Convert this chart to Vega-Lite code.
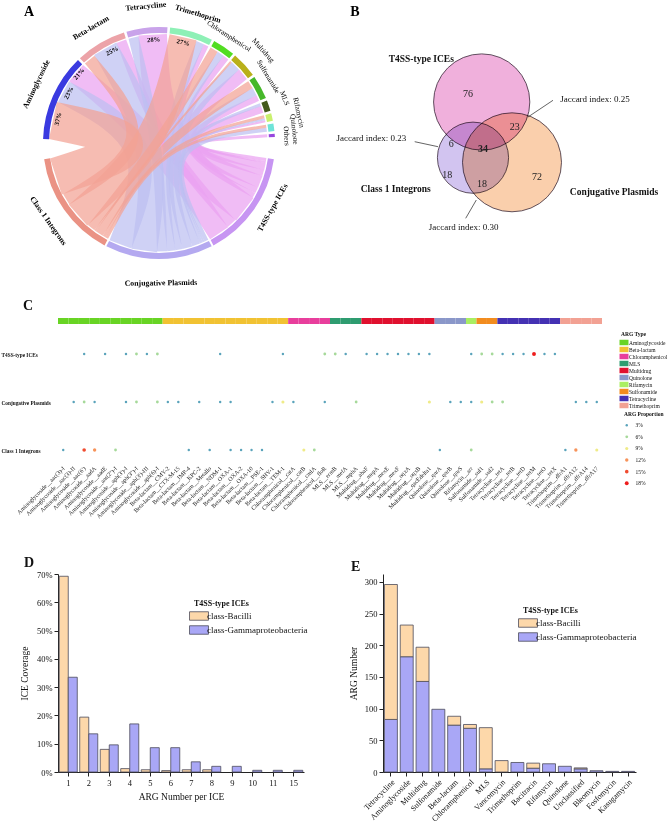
{
  "$schema": "https://vega.github.io/schema/vega-lite/v6.json",
  "padding": 0,
  "background": "white",
  "config": {
    "font": "Liberation Serif",
    "view": {"stroke": "transparent"},
    "axis": {"grid": false, "domainColor": "#222222", "tickColor": "#222222", "labelColor": "#111111", "titleColor": "#111111", "titleFontWeight": "normal"},
    "legend": {"labelColor": "#111111", "titleColor": "#111111"},
    "title": {"color": "#111111"}
  },
  "datasets": {
    "ring": [
      {"seg": "T4SS-type ICEs", "t0": 98, "t1": 152},
      {"seg": "Conjugative Plasmids", "t0": 153, "t1": 207},
      {"seg": "Class 1 Integrons", "t0": 208, "t1": 262},
      {"seg": "Aminoglycoside", "t0": 272, "t1": 315.7},
      {"seg": "Beta-lactam", "t0": 317, "t1": 342.4},
      {"seg": "Tetracycline", "t0": 343.7, "t1": 364.2},
      {"seg": "Trimethoprim", "t0": 365.5, "t1": 387.1},
      {"seg": "Chloramphenicol", "t0": 388.4, "t1": 399.7},
      {"seg": "Multidrug", "t0": 401, "t1": 414},
      {"seg": "Sulfonamide", "t0": 415.3, "t1": 427.2},
      {"seg": "MLS", "t0": 428.5, "t1": 433.9},
      {"seg": "Rifamycin", "t0": 435.2, "t1": 439},
      {"seg": "Quinolone", "t0": 440.3, "t1": 444.1},
      {"seg": "Others", "t0": 445.4, "t1": 447}
    ],
    "chords": [
      {"id": "T-Oth", "src": "T4SS-type ICEs", "w": 3, "seq": 0, "x": 0.924, "y": -0.143},
      {"id": "T-Oth", "src": "T4SS-type ICEs", "w": 3, "seq": 1, "x": 0, "y": 0},
      {"id": "T-Oth", "src": "T4SS-type ICEs", "w": 3, "seq": 2, "x": 0.933, "y": 0.062},
      {"id": "T-Rif", "src": "T4SS-type ICEs", "w": 2, "seq": 0, "x": 0.92, "y": -0.165},
      {"id": "T-Rif", "src": "T4SS-type ICEs", "w": 2, "seq": 1, "x": 0, "y": 0},
      {"id": "T-Rif", "src": "T4SS-type ICEs", "w": 2, "seq": 2, "x": 0.916, "y": 0.187},
      {"id": "T-MLS", "src": "T4SS-type ICEs", "w": 7, "seq": 0, "x": 0.913, "y": -0.204},
      {"id": "T-MLS", "src": "T4SS-type ICEs", "w": 7, "seq": 1, "x": 0, "y": 0},
      {"id": "T-MLS", "src": "T4SS-type ICEs", "w": 7, "seq": 2, "x": 0.889, "y": 0.289},
      {"id": "T-Sul", "src": "T4SS-type ICEs", "w": 6, "seq": 0, "x": 0.898, "y": -0.259},
      {"id": "T-Sul", "src": "T4SS-type ICEs", "w": 6, "seq": 1, "x": 0, "y": 0},
      {"id": "T-Sul", "src": "T4SS-type ICEs", "w": 6, "seq": 2, "x": 0.851, "y": 0.387},
      {"id": "T-Mul", "src": "T4SS-type ICEs", "w": 12, "seq": 0, "x": 0.873, "y": -0.334},
      {"id": "T-Mul", "src": "T4SS-type ICEs", "w": 12, "seq": 1, "x": 0, "y": 0},
      {"id": "T-Mul", "src": "T4SS-type ICEs", "w": 12, "seq": 2, "x": 0.724, "y": 0.592},
      {"id": "T-Chl", "src": "T4SS-type ICEs", "w": 6, "seq": 0, "x": 0.842, "y": -0.407},
      {"id": "T-Chl", "src": "T4SS-type ICEs", "w": 6, "seq": 1, "x": 0, "y": 0},
      {"id": "T-Chl", "src": "T4SS-type ICEs", "w": 6, "seq": 2, "x": 0.577, "y": 0.736},
      {"id": "T-Tri", "src": "T4SS-type ICEs", "w": 5, "seq": 0, "x": 0.819, "y": -0.45},
      {"id": "T-Tri", "src": "T4SS-type ICEs", "w": 5, "seq": 1, "x": 0, "y": 0},
      {"id": "T-Tri", "src": "T4SS-type ICEs", "w": 5, "seq": 2, "x": 0.406, "y": 0.842},
      {"id": "T-Tet", "src": "T4SS-type ICEs", "w": 28, "seq": 0, "x": 0.74, "y": -0.572},
      {"id": "T-Tet", "src": "T4SS-type ICEs", "w": 28, "seq": 1, "x": 0, "y": 0},
      {"id": "T-Tet", "src": "T4SS-type ICEs", "w": 28, "seq": 2, "x": -0.055, "y": 0.933},
      {"id": "T-Bet", "src": "T4SS-type ICEs", "w": 10, "seq": 0, "x": 0.626, "y": -0.694},
      {"id": "T-Bet", "src": "T4SS-type ICEs", "w": 10, "seq": 1, "x": 0, "y": 0},
      {"id": "T-Bet", "src": "T4SS-type ICEs", "w": 10, "seq": 2, "x": -0.325, "y": 0.877},
      {"id": "T-Ami", "src": "T4SS-type ICEs", "w": 21, "seq": 0, "x": 0.518, "y": -0.778},
      {"id": "T-Ami", "src": "T4SS-type ICEs", "w": 21, "seq": 1, "x": 0, "y": 0},
      {"id": "T-Ami", "src": "T4SS-type ICEs", "w": 21, "seq": 2, "x": -0.715, "y": 0.602},
      {"id": "P-Qui", "src": "Conjugative Plasmids", "w": 4, "seq": 0, "x": 0.409, "y": -0.841},
      {"id": "P-Qui", "src": "Conjugative Plasmids", "w": 4, "seq": 1, "x": 0, "y": 0},
      {"id": "P-Qui", "src": "Conjugative Plasmids", "w": 4, "seq": 2, "x": 0.928, "y": 0.114},
      {"id": "P-Rif", "src": "Conjugative Plasmids", "w": 2, "seq": 0, "x": 0.385, "y": -0.852},
      {"id": "P-Rif", "src": "Conjugative Plasmids", "w": 2, "seq": 1, "x": 0, "y": 0},
      {"id": "P-Rif", "src": "Conjugative Plasmids", "w": 2, "seq": 2, "x": 0.912, "y": 0.205},
      {"id": "P-MLS", "src": "Conjugative Plasmids", "w": 3, "seq": 0, "x": 0.365, "y": -0.861},
      {"id": "P-MLS", "src": "Conjugative Plasmids", "w": 3, "seq": 1, "x": 0, "y": 0},
      {"id": "P-MLS", "src": "Conjugative Plasmids", "w": 3, "seq": 2, "x": 0.875, "y": 0.33},
      {"id": "P-Sul", "src": "Conjugative Plasmids", "w": 8, "seq": 0, "x": 0.32, "y": -0.879},
      {"id": "P-Sul", "src": "Conjugative Plasmids", "w": 8, "seq": 1, "x": 0, "y": 0},
      {"id": "P-Sul", "src": "Conjugative Plasmids", "w": 8, "seq": 2, "x": 0.824, "y": 0.442},
      {"id": "P-Mul", "src": "Conjugative Plasmids", "w": 10, "seq": 0, "x": 0.244, "y": -0.903},
      {"id": "P-Mul", "src": "Conjugative Plasmids", "w": 10, "seq": 1, "x": 0, "y": 0},
      {"id": "P-Mul", "src": "Conjugative Plasmids", "w": 10, "seq": 2, "x": 0.659, "y": 0.664},
      {"id": "P-Chl", "src": "Conjugative Plasmids", "w": 7, "seq": 0, "x": 0.171, "y": -0.919},
      {"id": "P-Chl", "src": "Conjugative Plasmids", "w": 7, "seq": 1, "x": 0, "y": 0},
      {"id": "P-Chl", "src": "Conjugative Plasmids", "w": 7, "seq": 2, "x": 0.531, "y": 0.77},
      {"id": "P-Tri", "src": "Conjugative Plasmids", "w": 8, "seq": 0, "x": 0.106, "y": -0.929},
      {"id": "P-Tri", "src": "Conjugative Plasmids", "w": 8, "seq": 1, "x": 0, "y": 0},
      {"id": "P-Tri", "src": "Conjugative Plasmids", "w": 8, "seq": 2, "x": 0.354, "y": 0.865},
      {"id": "P-Tet", "src": "Conjugative Plasmids", "w": 10, "seq": 0, "x": 0.026, "y": -0.935},
      {"id": "P-Tet", "src": "Conjugative Plasmids", "w": 10, "seq": 1, "x": 0, "y": 0},
      {"id": "P-Tet", "src": "Conjugative Plasmids", "w": 10, "seq": 2, "x": -0.22, "y": 0.909},
      {"id": "P-Bet", "src": "Conjugative Plasmids", "w": 25, "seq": 0, "x": -0.127, "y": -0.926},
      {"id": "P-Bet", "src": "Conjugative Plasmids", "w": 25, "seq": 1, "x": 0, "y": 0},
      {"id": "P-Bet", "src": "Conjugative Plasmids", "w": 25, "seq": 2, "x": -0.464, "y": 0.812},
      {"id": "P-Ami", "src": "Conjugative Plasmids", "w": 23, "seq": 0, "x": -0.332, "y": -0.874},
      {"id": "P-Ami", "src": "Conjugative Plasmids", "w": 23, "seq": 1, "x": 0, "y": 0},
      {"id": "P-Ami", "src": "Conjugative Plasmids", "w": 23, "seq": 2, "x": -0.824, "y": 0.442},
      {"id": "I-Qui", "src": "Class 1 Integrons", "w": 3, "seq": 0, "x": -0.451, "y": -0.819},
      {"id": "I-Qui", "src": "Class 1 Integrons", "w": 3, "seq": 1, "x": 0, "y": 0},
      {"id": "I-Qui", "src": "Class 1 Integrons", "w": 3, "seq": 2, "x": 0.924, "y": 0.144},
      {"id": "I-Rif", "src": "Class 1 Integrons", "w": 3, "seq": 0, "x": -0.473, "y": -0.806},
      {"id": "I-Rif", "src": "Class 1 Integrons", "w": 3, "seq": 1, "x": 0, "y": 0},
      {"id": "I-Rif", "src": "Class 1 Integrons", "w": 3, "seq": 2, "x": 0.907, "y": 0.226},
      {"id": "I-Sul", "src": "Class 1 Integrons", "w": 8, "seq": 0, "x": -0.515, "y": -0.781},
      {"id": "I-Sul", "src": "Class 1 Integrons", "w": 8, "seq": 1, "x": 0, "y": 0},
      {"id": "I-Sul", "src": "Class 1 Integrons", "w": 8, "seq": 2, "x": 0.788, "y": 0.503},
      {"id": "I-Mul", "src": "Class 1 Integrons", "w": 2, "seq": 0, "x": -0.551, "y": -0.755},
      {"id": "I-Mul", "src": "Class 1 Integrons", "w": 2, "seq": 1, "x": 0, "y": 0},
      {"id": "I-Mul", "src": "Class 1 Integrons", "w": 2, "seq": 2, "x": 0.62, "y": 0.7},
      {"id": "I-Chl", "src": "Class 1 Integrons", "w": 8, "seq": 0, "x": -0.586, "y": -0.729},
      {"id": "I-Chl", "src": "Class 1 Integrons", "w": 8, "seq": 1, "x": 0, "y": 0},
      {"id": "I-Chl", "src": "Class 1 Integrons", "w": 8, "seq": 2, "x": 0.475, "y": 0.805},
      {"id": "I-Tri", "src": "Class 1 Integrons", "w": 27, "seq": 0, "x": -0.698, "y": -0.622},
      {"id": "I-Tri", "src": "Class 1 Integrons", "w": 27, "seq": 1, "x": 0, "y": 0},
      {"id": "I-Tri", "src": "Class 1 Integrons", "w": 27, "seq": 2, "x": 0.207, "y": 0.912},
      {"id": "I-Bet", "src": "Class 1 Integrons", "w": 12, "seq": 0, "x": -0.8, "y": -0.485},
      {"id": "I-Bet", "src": "Class 1 Integrons", "w": 12, "seq": 1, "x": 0, "y": 0},
      {"id": "I-Bet", "src": "Class 1 Integrons", "w": 12, "seq": 2, "x": -0.598, "y": 0.719},
      {"id": "I-Ami", "src": "Class 1 Integrons", "w": 37, "seq": 0, "x": -0.889, "y": -0.289},
      {"id": "I-Ami", "src": "Class 1 Integrons", "w": 37, "seq": 1, "x": 0, "y": 0},
      {"id": "I-Ami", "src": "Class 1 Integrons", "w": 37, "seq": 2, "x": -0.915, "y": 0.194}
    ],
    "albold": [
      {"label": "Aminoglycoside", "deg": 295.6, "x": -1.055, "y": 0.506},
      {"label": "Beta-lactam", "deg": 329.4, "x": -0.585, "y": 0.99},
      {"label": "Tetracycline", "deg": 354.5, "x": -0.113, "y": 1.175},
      {"label": "Trimethoprim", "deg": 16.8, "x": 0.335, "y": 1.11}
    ],
    "alsmall": [
      {"label": "Chloramphenicol", "deg": 33.2, "x": 0.602, "y": 0.92},
      {"label": "Multidrug", "deg": 48.4, "x": 0.897, "y": 0.797},
      {"label": "Sulfonamide", "deg": 58.7, "x": 0.94, "y": 0.571},
      {"label": "MLS", "deg": 68.6, "x": 1.08, "y": 0.385},
      {"label": "Rifamycin", "deg": 77.7, "x": 1.202, "y": 0.262},
      {"label": "Quinolone", "deg": 84.2, "x": 1.164, "y": 0.118},
      {"label": "Others", "deg": 86.8, "x": 1.098, "y": 0.061}
    ],
    "alpct": [
      {"label": "37%", "deg": 283.4, "x": -0.871, "y": 0.207},
      {"label": "23%", "deg": 299, "x": -0.778, "y": 0.431},
      {"label": "21%", "deg": 310.8, "x": -0.689, "y": 0.595},
      {"label": "25%", "deg": 333, "x": -0.404, "y": 0.793},
      {"label": "28%", "deg": 357, "x": -0.047, "y": 0.889},
      {"label": "27%", "deg": 13.5, "x": 0.208, "y": 0.865}
    ],
    "albot": [
      {"label": "T4SS-type ICEs", "deg": 119.7, "x": 0.982, "y": -0.56},
      {"label": "Conjugative Plasmids", "deg": 179.2, "x": 0.017, "y": -1.21},
      {"label": "Class 1 Integrons", "deg": 234.9, "x": -0.957, "y": -0.673}
    ],
    "venn": [
      {"set": "T4SS-type ICEs", "total": 139, "cx": 148.7, "cy": 101},
      {"set": "Conjugative Plasmids", "total": 147, "cx": 179, "cy": 161.3},
      {"set": "Class 1 Integrons", "total": 76, "cx": 140, "cy": 156.7}
    ],
    "vnum": [
      {"label": "76", "x": 135, "y": 92.7},
      {"label": "23", "x": 181.7, "y": 126},
      {"label": "6", "x": 118.3, "y": 142.7},
      {"label": "18", "x": 114.3, "y": 174.3},
      {"label": "18", "x": 149, "y": 182.7},
      {"label": "72", "x": 204, "y": 176}
    ],
    "vset": [
      {"label": "T4SS-type ICEs", "x": 88.3, "y": 58.3},
      {"label": "Class 1 Integrons", "x": 62.7, "y": 187.7},
      {"label": "Conjugative Plasmids", "x": 281, "y": 191}
    ],
    "vjac": [
      {"label": "Jaccard index: 0.25", "x": 262, "y": 98.3, "x0": 220, "y0": 99.3, "x1": 195, "y1": 116},
      {"label": "Jaccard index: 0.23", "x": 38.3, "y": 137.3, "x0": 81.7, "y0": 140.7, "x1": 105, "y1": 145.7},
      {"label": "Jaccard index: 0.30", "x": 130.7, "y": 226, "x0": 132.7, "y0": 217.3, "x1": 143.3, "y1": 199}
    ],
    "genes": [
      {"gene": "Aminoglycoside__aac(3)-I", "type": "Aminoglycoside"},
      {"gene": "Aminoglycoside__aac(3)-II", "type": "Aminoglycoside"},
      {"gene": "Aminoglycoside__aac(6')", "type": "Aminoglycoside"},
      {"gene": "Aminoglycoside__aadA", "type": "Aminoglycoside"},
      {"gene": "Aminoglycoside__aadE", "type": "Aminoglycoside"},
      {"gene": "Aminoglycoside__ant(2'')-I", "type": "Aminoglycoside"},
      {"gene": "Aminoglycoside__aph(3')-I", "type": "Aminoglycoside"},
      {"gene": "Aminoglycoside__aph(3'')-I", "type": "Aminoglycoside"},
      {"gene": "Aminoglycoside__aph(3')-III", "type": "Aminoglycoside"},
      {"gene": "Aminoglycoside__aph(6)-I", "type": "Aminoglycoside"},
      {"gene": "Beta-lactam__CMY-2", "type": "Beta-lactam"},
      {"gene": "Beta-lactam__CTX-M-15", "type": "Beta-lactam"},
      {"gene": "Beta-lactam__IMP-4", "type": "Beta-lactam"},
      {"gene": "Beta-lactam__KPC-2", "type": "Beta-lactam"},
      {"gene": "Beta-lactam__Metallo", "type": "Beta-lactam"},
      {"gene": "Beta-lactam__NDM-1", "type": "Beta-lactam"},
      {"gene": "Beta-lactam__OXA-1", "type": "Beta-lactam"},
      {"gene": "Beta-lactam__OXA-2", "type": "Beta-lactam"},
      {"gene": "Beta-lactam__OXA-10", "type": "Beta-lactam"},
      {"gene": "Beta-lactam__PSE-1", "type": "Beta-lactam"},
      {"gene": "Beta-lactam__SHV-1", "type": "Beta-lactam"},
      {"gene": "Beta-lactam__TEM-1", "type": "Beta-lactam"},
      {"gene": "Chloramphenicol__catA", "type": "Chloramphenicol"},
      {"gene": "Chloramphenicol__catB", "type": "Chloramphenicol"},
      {"gene": "Chloramphenicol__cmlA", "type": "Chloramphenicol"},
      {"gene": "Chloramphenicol__floR", "type": "Chloramphenicol"},
      {"gene": "MLS__ermB", "type": "MLS"},
      {"gene": "MLS__mefA", "type": "MLS"},
      {"gene": "MLS__mphA", "type": "MLS"},
      {"gene": "Multidrug__abaF", "type": "Multidrug"},
      {"gene": "Multidrug__mepA", "type": "Multidrug"},
      {"gene": "Multidrug__mexE", "type": "Multidrug"},
      {"gene": "Multidrug__mexF", "type": "Multidrug"},
      {"gene": "Multidrug__oqxA", "type": "Multidrug"},
      {"gene": "Multidrug__oqxB", "type": "Multidrug"},
      {"gene": "Multidrug__qacEdelta1", "type": "Multidrug"},
      {"gene": "Quinolone__qnrA", "type": "Quinolone"},
      {"gene": "Quinolone__qnrB", "type": "Quinolone"},
      {"gene": "Quinolone__qnrS", "type": "Quinolone"},
      {"gene": "Rifamycin__arr", "type": "Rifamycin"},
      {"gene": "Sulfonamide__sul1", "type": "Sulfonamide"},
      {"gene": "Sulfonamide__sul2", "type": "Sulfonamide"},
      {"gene": "Tetracycline__tetA", "type": "Tetracycline"},
      {"gene": "Tetracycline__tetB", "type": "Tetracycline"},
      {"gene": "Tetracycline__tetD", "type": "Tetracycline"},
      {"gene": "Tetracycline__tetM", "type": "Tetracycline"},
      {"gene": "Tetracycline__tetO", "type": "Tetracycline"},
      {"gene": "Tetracycline__tetX", "type": "Tetracycline"},
      {"gene": "Trimethoprim__dfrA1", "type": "Trimethoprim"},
      {"gene": "Trimethoprim__dfrA12", "type": "Trimethoprim"},
      {"gene": "Trimethoprim__dfrA14", "type": "Trimethoprim"},
      {"gene": "Trimethoprim__dfrA17", "type": "Trimethoprim"}
    ],
    "dots": [
      {"row": "T4SS-type ICEs", "gene": "Aminoglycoside__aac(6')", "prop": "3%"},
      {"row": "T4SS-type ICEs", "gene": "Aminoglycoside__aadE", "prop": "3%"},
      {"row": "T4SS-type ICEs", "gene": "Aminoglycoside__aph(3')-I", "prop": "3%"},
      {"row": "T4SS-type ICEs", "gene": "Aminoglycoside__aph(3'')-I", "prop": "6%"},
      {"row": "T4SS-type ICEs", "gene": "Aminoglycoside__aph(3')-III", "prop": "3%"},
      {"row": "T4SS-type ICEs", "gene": "Aminoglycoside__aph(6)-I", "prop": "6%"},
      {"row": "T4SS-type ICEs", "gene": "Beta-lactam__NDM-1", "prop": "3%"},
      {"row": "T4SS-type ICEs", "gene": "Beta-lactam__TEM-1", "prop": "3%"},
      {"row": "T4SS-type ICEs", "gene": "Chloramphenicol__floR", "prop": "6%"},
      {"row": "T4SS-type ICEs", "gene": "MLS__ermB", "prop": "6%"},
      {"row": "T4SS-type ICEs", "gene": "MLS__mefA", "prop": "3%"},
      {"row": "T4SS-type ICEs", "gene": "Multidrug__abaF", "prop": "3%"},
      {"row": "T4SS-type ICEs", "gene": "Multidrug__mepA", "prop": "3%"},
      {"row": "T4SS-type ICEs", "gene": "Multidrug__mexE", "prop": "3%"},
      {"row": "T4SS-type ICEs", "gene": "Multidrug__mexF", "prop": "3%"},
      {"row": "T4SS-type ICEs", "gene": "Multidrug__oqxA", "prop": "3%"},
      {"row": "T4SS-type ICEs", "gene": "Multidrug__oqxB", "prop": "3%"},
      {"row": "T4SS-type ICEs", "gene": "Multidrug__qacEdelta1", "prop": "3%"},
      {"row": "T4SS-type ICEs", "gene": "Rifamycin__arr", "prop": "3%"},
      {"row": "T4SS-type ICEs", "gene": "Sulfonamide__sul1", "prop": "6%"},
      {"row": "T4SS-type ICEs", "gene": "Sulfonamide__sul2", "prop": "6%"},
      {"row": "T4SS-type ICEs", "gene": "Tetracycline__tetA", "prop": "3%"},
      {"row": "T4SS-type ICEs", "gene": "Tetracycline__tetB", "prop": "3%"},
      {"row": "T4SS-type ICEs", "gene": "Tetracycline__tetD", "prop": "3%"},
      {"row": "T4SS-type ICEs", "gene": "Tetracycline__tetM", "prop": "18%"},
      {"row": "T4SS-type ICEs", "gene": "Tetracycline__tetO", "prop": "3%"},
      {"row": "T4SS-type ICEs", "gene": "Tetracycline__tetX", "prop": "3%"},
      {"row": "Conjugative Plasmids", "gene": "Aminoglycoside__aac(3)-II", "prop": "3%"},
      {"row": "Conjugative Plasmids", "gene": "Aminoglycoside__aac(6')", "prop": "6%"},
      {"row": "Conjugative Plasmids", "gene": "Aminoglycoside__aadA", "prop": "3%"},
      {"row": "Conjugative Plasmids", "gene": "Aminoglycoside__aph(3')-I", "prop": "3%"},
      {"row": "Conjugative Plasmids", "gene": "Aminoglycoside__aph(3'')-I", "prop": "6%"},
      {"row": "Conjugative Plasmids", "gene": "Aminoglycoside__aph(6)-I", "prop": "6%"},
      {"row": "Conjugative Plasmids", "gene": "Beta-lactam__CMY-2", "prop": "3%"},
      {"row": "Conjugative Plasmids", "gene": "Beta-lactam__CTX-M-15", "prop": "3%"},
      {"row": "Conjugative Plasmids", "gene": "Beta-lactam__KPC-2", "prop": "3%"},
      {"row": "Conjugative Plasmids", "gene": "Beta-lactam__NDM-1", "prop": "3%"},
      {"row": "Conjugative Plasmids", "gene": "Beta-lactam__OXA-1", "prop": "3%"},
      {"row": "Conjugative Plasmids", "gene": "Beta-lactam__SHV-1", "prop": "3%"},
      {"row": "Conjugative Plasmids", "gene": "Beta-lactam__TEM-1", "prop": "9%"},
      {"row": "Conjugative Plasmids", "gene": "Chloramphenicol__catA", "prop": "3%"},
      {"row": "Conjugative Plasmids", "gene": "Chloramphenicol__floR", "prop": "3%"},
      {"row": "Conjugative Plasmids", "gene": "MLS__mphA", "prop": "6%"},
      {"row": "Conjugative Plasmids", "gene": "Multidrug__qacEdelta1", "prop": "9%"},
      {"row": "Conjugative Plasmids", "gene": "Quinolone__qnrB", "prop": "3%"},
      {"row": "Conjugative Plasmids", "gene": "Quinolone__qnrS", "prop": "3%"},
      {"row": "Conjugative Plasmids", "gene": "Rifamycin__arr", "prop": "3%"},
      {"row": "Conjugative Plasmids", "gene": "Sulfonamide__sul1", "prop": "9%"},
      {"row": "Conjugative Plasmids", "gene": "Sulfonamide__sul2", "prop": "6%"},
      {"row": "Conjugative Plasmids", "gene": "Tetracycline__tetA", "prop": "6%"},
      {"row": "Conjugative Plasmids", "gene": "Trimethoprim__dfrA12", "prop": "3%"},
      {"row": "Conjugative Plasmids", "gene": "Trimethoprim__dfrA14", "prop": "3%"},
      {"row": "Conjugative Plasmids", "gene": "Trimethoprim__dfrA17", "prop": "3%"},
      {"row": "Class 1 Integrons", "gene": "Aminoglycoside__aac(3)-I", "prop": "3%"},
      {"row": "Class 1 Integrons", "gene": "Aminoglycoside__aac(6')", "prop": "15%"},
      {"row": "Class 1 Integrons", "gene": "Aminoglycoside__aadA", "prop": "12%"},
      {"row": "Class 1 Integrons", "gene": "Aminoglycoside__ant(2'')-I", "prop": "6%"},
      {"row": "Class 1 Integrons", "gene": "Beta-lactam__IMP-4", "prop": "3%"},
      {"row": "Class 1 Integrons", "gene": "Beta-lactam__Metallo", "prop": "3%"},
      {"row": "Class 1 Integrons", "gene": "Beta-lactam__OXA-1", "prop": "3%"},
      {"row": "Class 1 Integrons", "gene": "Beta-lactam__OXA-2", "prop": "3%"},
      {"row": "Class 1 Integrons", "gene": "Beta-lactam__OXA-10", "prop": "3%"},
      {"row": "Class 1 Integrons", "gene": "Beta-lactam__PSE-1", "prop": "3%"},
      {"row": "Class 1 Integrons", "gene": "Chloramphenicol__catB", "prop": "9%"},
      {"row": "Class 1 Integrons", "gene": "Chloramphenicol__cmlA", "prop": "6%"},
      {"row": "Class 1 Integrons", "gene": "Quinolone__qnrA", "prop": "3%"},
      {"row": "Class 1 Integrons", "gene": "Rifamycin__arr", "prop": "6%"},
      {"row": "Class 1 Integrons", "gene": "Trimethoprim__dfrA1", "prop": "3%"},
      {"row": "Class 1 Integrons", "gene": "Trimethoprim__dfrA12", "prop": "12%"},
      {"row": "Class 1 Integrons", "gene": "Trimethoprim__dfrA17", "prop": "9%"}
    ],
    "cover": [
      {"n": 1, "cls": "class-Bacilli", "v": 0.692},
      {"n": 2, "cls": "class-Bacilli", "v": 0.194},
      {"n": 3, "cls": "class-Bacilli", "v": 0.08},
      {"n": 4, "cls": "class-Bacilli", "v": 0.012},
      {"n": 5, "cls": "class-Bacilli", "v": 0.008},
      {"n": 6, "cls": "class-Bacilli", "v": 0.005},
      {"n": 7, "cls": "class-Bacilli", "v": 0.008},
      {"n": 8, "cls": "class-Bacilli", "v": 0.008},
      {"n": 1, "cls": "class-Gammaproteobacteria", "v": 0.335},
      {"n": 2, "cls": "class-Gammaproteobacteria", "v": 0.135},
      {"n": 3, "cls": "class-Gammaproteobacteria", "v": 0.096},
      {"n": 4, "cls": "class-Gammaproteobacteria", "v": 0.17},
      {"n": 5, "cls": "class-Gammaproteobacteria", "v": 0.086},
      {"n": 6, "cls": "class-Gammaproteobacteria", "v": 0.086},
      {"n": 7, "cls": "class-Gammaproteobacteria", "v": 0.036},
      {"n": 8, "cls": "class-Gammaproteobacteria", "v": 0.02},
      {"n": 9, "cls": "class-Gammaproteobacteria", "v": 0.02},
      {"n": 10, "cls": "class-Gammaproteobacteria", "v": 0.006},
      {"n": 11, "cls": "class-Gammaproteobacteria", "v": 0.006},
      {"n": 15, "cls": "class-Gammaproteobacteria", "v": 0.006}
    ],
    "argnum": [
      {"arg": "Tetracycline", "cls": "class-Gammaproteobacteria", "v": 83},
      {"arg": "Tetracycline", "cls": "class-Bacilli", "v": 213},
      {"arg": "Aminoglycoside", "cls": "class-Gammaproteobacteria", "v": 182},
      {"arg": "Aminoglycoside", "cls": "class-Bacilli", "v": 50},
      {"arg": "Multidrug", "cls": "class-Gammaproteobacteria", "v": 143},
      {"arg": "Multidrug", "cls": "class-Bacilli", "v": 54},
      {"arg": "Sulfonamide", "cls": "class-Gammaproteobacteria", "v": 99},
      {"arg": "Beta-lactam", "cls": "class-Gammaproteobacteria", "v": 74},
      {"arg": "Beta-lactam", "cls": "class-Bacilli", "v": 14},
      {"arg": "Chloramphenicol", "cls": "class-Gammaproteobacteria", "v": 69},
      {"arg": "Chloramphenicol", "cls": "class-Bacilli", "v": 6},
      {"arg": "MLS", "cls": "class-Gammaproteobacteria", "v": 5},
      {"arg": "MLS", "cls": "class-Bacilli", "v": 65},
      {"arg": "Vancomycin", "cls": "class-Bacilli", "v": 18},
      {"arg": "Trimethoprim", "cls": "class-Gammaproteobacteria", "v": 15},
      {"arg": "Bacitracin", "cls": "class-Gammaproteobacteria", "v": 6},
      {"arg": "Bacitracin", "cls": "class-Bacilli", "v": 8},
      {"arg": "Rifamycin", "cls": "class-Gammaproteobacteria", "v": 13},
      {"arg": "Quinolone", "cls": "class-Gammaproteobacteria", "v": 9},
      {"arg": "Unclassified", "cls": "class-Gammaproteobacteria", "v": 5},
      {"arg": "Unclassified", "cls": "class-Bacilli", "v": 1.5},
      {"arg": "Bleomycin", "cls": "class-Gammaproteobacteria", "v": 2},
      {"arg": "Fosfomycin", "cls": "class-Gammaproteobacteria", "v": 1},
      {"arg": "Kasugamycin", "cls": "class-Gammaproteobacteria", "v": 1}
    ]
  },
  "spacing": 6,
  "resolve": {"scale": {"color": "independent", "size": "independent", "strokeWidth": "independent", "angle": "independent"}},
  "vconcat": [
    {
      "spacing": 0,
      "resolve": {"scale": {"color": "independent", "size": "independent", "strokeWidth": "independent", "angle": "independent"}},
      "hconcat": [
        {
          "width": 273,
          "height": 290,
          "resolve": {"scale": {"color": "independent", "angle": "independent"}},
          "layer": [
            {
              "data": {"name": "chords"},
              "mark": {"type": "line", "interpolate": "basis", "strokeCap": "butt", "strokeJoin": "round", "opacity": 0.72},
              "encoding": {
                "x": {"field": "x", "type": "quantitative", "scale": {"domain": [-0.871, 1.483], "nice": false, "zero": false}, "axis": null},
                "y": {"field": "y", "type": "quantitative", "scale": {"domain": [-1.276, 1.224], "nice": false, "zero": false}, "axis": null},
                "detail": {"field": "id"},
                "order": {"field": "seq"},
                "color": {"field": "src", "type": "nominal", "scale": {"domain": ["Class 1 Integrons", "Conjugative Plasmids", "T4SS-type ICEs"], "range": ["#f2a294", "#bcbff1", "#eaa2f1"]}, "legend": null},
                "strokeWidth": {"field": "w", "type": "quantitative", "scale": {"domain": [0, 37], "range": [0, 37.7], "zero": true}, "legend": null}
              }
            },
            {
              "data": {"name": "ring"},
              "mark": {"type": "arc", "radius": 116, "radius2": 110},
              "encoding": {
                "x": {"datum": 0, "type": "quantitative"},
                "y": {"datum": 0, "type": "quantitative"},
                "theta": {"field": "t0", "type": "quantitative", "stack": null, "scale": {"domain": [0, 360], "range": [0, 6.283185307], "nice": false, "zero": false}},
                "theta2": {"field": "t1"},
                "color": {"field": "seg", "type": "nominal", "legend": null, "scale": {
                  "domain": ["T4SS-type ICEs", "Conjugative Plasmids", "Class 1 Integrons", "Aminoglycoside", "Beta-lactam", "Tetracycline", "Trimethoprim", "Chloramphenicol", "Multidrug", "Sulfonamide", "MLS", "Rifamycin", "Quinolone", "Others"],
                  "range": ["#c795f2", "#b4a9f0", "#ea9284", "#3a3ae0", "#eca3a8", "#c9a3ea", "#8ef0b6", "#52dd22", "#b9b01a", "#46b82a", "#445a1c", "#c9f06e", "#6fe4d8", "#9646de"]}}
              }
            },
            {
              "data": {"name": "albold"},
              "mark": {"type": "text", "fontSize": 7.8, "fontWeight": "bold", "align": "center", "baseline": "middle"},
              "encoding": {
                "x": {"field": "x", "type": "quantitative"},
                "y": {"field": "y", "type": "quantitative"},
                "angle": {"field": "deg", "type": "quantitative", "scale": {"domain": [0, 360], "range": [0, 360]}},
                "text": {"field": "label"}
              }
            },
            {
              "data": {"name": "alsmall"},
              "mark": {"type": "text", "fontSize": 7.3, "align": "center", "baseline": "middle"},
              "encoding": {
                "x": {"field": "x", "type": "quantitative"},
                "y": {"field": "y", "type": "quantitative"},
                "angle": {"field": "deg", "type": "quantitative", "scale": {"domain": [0, 360], "range": [0, 360]}},
                "text": {"field": "label"}
              }
            },
            {
              "data": {"name": "alpct"},
              "mark": {"type": "text", "fontSize": 6.5, "fontWeight": "bold", "align": "center", "baseline": "middle"},
              "encoding": {
                "x": {"field": "x", "type": "quantitative"},
                "y": {"field": "y", "type": "quantitative"},
                "angle": {"field": "deg", "type": "quantitative", "scale": {"domain": [0, 360], "range": [0, 360]}},
                "text": {"field": "label"}
              }
            },
            {
              "data": {"name": "albot"},
              "mark": {"type": "text", "fontSize": 7.8, "fontWeight": "bold", "align": "center", "baseline": "middle"},
              "encoding": {
                "x": {"field": "x", "type": "quantitative"},
                "y": {"field": "y", "type": "quantitative"},
                "angle": {"field": "deg", "type": "quantitative", "scale": {"domain": [0, 360], "range": [-180, 180]}},
                "text": {"field": "label"}
              }
            },
            {
              "data": {"values": [{"label": "A"}]},
              "mark": {"type": "text", "fontSize": 14, "fontWeight": "bold", "align": "center", "baseline": "middle"},
              "encoding": {
                "x": {"datum": -1.121, "type": "quantitative"},
                "y": {"datum": 1.13, "type": "quantitative"},
                "text": {"field": "label"}
              }
            }
          ]
        },
        {
          "width": 339,
          "height": 290,
          "layer": [
            {
              "data": {"name": "venn"},
              "mark": {"type": "circle", "opacity": 1, "stroke": "#3a2a3a", "strokeWidth": 0.8, "blend": "multiply"},
              "encoding": {
                "x": {"field": "cx", "type": "quantitative", "scale": {"domain": [0, 339], "nice": false, "zero": false}, "axis": null},
                "y": {"field": "cy", "type": "quantitative", "scale": {"domain": [0, 290], "nice": false, "zero": false, "reverse": true}, "axis": null},
                "size": {"field": "total", "type": "quantitative", "scale": {"domain": [0, 147], "range": [0, 9796], "zero": true}, "legend": null},
                "color": {"field": "set", "type": "nominal", "scale": {"domain": ["T4SS-type ICEs", "Conjugative Plasmids", "Class 1 Integrons"], "range": ["#f0b0dc", "#facfac", "#d2c4f0"]}, "legend": null}
              }
            },
            {
              "data": {"name": "vjac"},
              "mark": {"type": "rule", "color": "#222222", "strokeWidth": 0.7},
              "encoding": {
                "x": {"field": "x0", "type": "quantitative"},
                "y": {"field": "y0", "type": "quantitative"},
                "x2": {"field": "x1"},
                "y2": {"field": "y1"}
              }
            },
            {
              "data": {"name": "vjac"},
              "mark": {"type": "text", "fontSize": 9, "align": "center", "baseline": "middle", "color": "#111111"},
              "encoding": {
                "x": {"field": "x", "type": "quantitative"},
                "y": {"field": "y", "type": "quantitative"},
                "text": {"field": "label"}
              }
            },
            {
              "data": {"name": "vnum"},
              "mark": {"type": "text", "fontSize": 10, "align": "center", "baseline": "middle", "color": "#222222"},
              "encoding": {
                "x": {"field": "x", "type": "quantitative"},
                "y": {"field": "y", "type": "quantitative"},
                "text": {"field": "label"}
              }
            },
            {
              "data": {"values": [{"label": "34", "x": 150, "y": 147.7}]},
              "mark": {"type": "text", "fontSize": 10, "fontWeight": "bold", "align": "center", "baseline": "middle", "color": "#222222"},
              "encoding": {
                "x": {"field": "x", "type": "quantitative"},
                "y": {"field": "y", "type": "quantitative"},
                "text": {"field": "label"}
              }
            },
            {
              "data": {"name": "vset"},
              "mark": {"type": "text", "fontSize": 9.5, "fontWeight": "bold", "align": "center", "baseline": "middle", "color": "#111111"},
              "encoding": {
                "x": {"field": "x", "type": "quantitative"},
                "y": {"field": "y", "type": "quantitative"},
                "text": {"field": "label"}
              }
            },
            {
              "data": {"values": [{"label": "B", "x": 22, "y": 11}]},
              "mark": {"type": "text", "fontSize": 14, "fontWeight": "bold", "align": "center", "baseline": "middle"},
              "encoding": {
                "x": {"field": "x", "type": "quantitative"},
                "y": {"field": "y", "type": "quantitative"},
                "text": {"field": "label"}
              }
            }
          ]
        }
      ]
    },
    {
      "spacing": 35,
      "resolve": {"scale": {"color": "independent", "size": "independent"}},
      "vconcat": [
        {
          "spacing": 6,
          "resolve": {"scale": {"color": "independent", "size": "independent"}},
          "vconcat": [
            {
              "width": 544,
              "height": 6,
              "title": {"text": "C", "anchor": "start", "frame": "group", "fontSize": 14, "fontWeight": "bold", "dx": -35, "offset": 5},
              "data": {"name": "genes"},
              "mark": {"type": "bar"},
              "encoding": {
                "x": {"field": "gene", "type": "nominal", "sort": null, "axis": null, "scale": {"paddingInner": 0, "paddingOuter": 0}},
                "color": {
                  "field": "type", "type": "nominal",
                  "scale": {
                    "domain": ["Aminoglycoside", "Beta-lactam", "Chloramphenicol", "MLS", "Multidrug", "Quinolone", "Rifamycin", "Sulfonamide", "Tetracycline", "Trimethoprim"],
                    "range": ["#68d424", "#f1c232", "#e83e9c", "#2e9c70", "#e0102e", "#8a97c9", "#a9ee62", "#f28c1e", "#4431b3", "#f2a193"]
                  },
                  "legend": null
                }
              }
            },
            {
              "width": 544,
              "height": 120,
              "resolve": {"scale": {"color": "independent", "size": "independent"}, "legend": {"color": "independent", "size": "independent"}},
              "layer": [
                {
                  "data": {"name": "dots"},
                  "mark": {"type": "circle", "opacity": 1},
                  "encoding": {
                    "x": {
                      "field": "gene", "type": "nominal",
                      "scale": {"paddingInner": 0, "paddingOuter": 0, "domain": ["Aminoglycoside__aac(3)-I", "Aminoglycoside__aac(3)-II", "Aminoglycoside__aac(6')", "Aminoglycoside__aadA", "Aminoglycoside__aadE", "Aminoglycoside__ant(2'')-I", "Aminoglycoside__aph(3')-I", "Aminoglycoside__aph(3'')-I", "Aminoglycoside__aph(3')-III", "Aminoglycoside__aph(6)-I", "Beta-lactam__CMY-2", "Beta-lactam__CTX-M-15", "Beta-lactam__IMP-4", "Beta-lactam__KPC-2", "Beta-lactam__Metallo", "Beta-lactam__NDM-1", "Beta-lactam__OXA-1", "Beta-lactam__OXA-2", "Beta-lactam__OXA-10", "Beta-lactam__PSE-1", "Beta-lactam__SHV-1", "Beta-lactam__TEM-1", "Chloramphenicol__catA", "Chloramphenicol__catB", "Chloramphenicol__cmlA", "Chloramphenicol__floR", "MLS__ermB", "MLS__mefA", "MLS__mphA", "Multidrug__abaF", "Multidrug__mepA", "Multidrug__mexE", "Multidrug__mexF", "Multidrug__oqxA", "Multidrug__oqxB", "Multidrug__qacEdelta1", "Quinolone__qnrA", "Quinolone__qnrB", "Quinolone__qnrS", "Rifamycin__arr", "Sulfonamide__sul1", "Sulfonamide__sul2", "Tetracycline__tetA", "Tetracycline__tetB", "Tetracycline__tetD", "Tetracycline__tetM", "Tetracycline__tetO", "Tetracycline__tetX", "Trimethoprim__dfrA1", "Trimethoprim__dfrA12", "Trimethoprim__dfrA14", "Trimethoprim__dfrA17"]},
                      "axis": {"title": null, "labelAngle": -45, "labelAlign": "right", "labelBaseline": "middle", "labelFontSize": 6, "labelPadding": 5, "ticks": false, "tickSize": 0, "domain": false, "labelColor": "#222222"}
                    },
                    "y": {
                      "field": "row", "type": "nominal",
                      "scale": {"domain": ["T4SS-type ICEs", "Conjugative Plasmids", "Class 1 Integrons"], "padding": 0.25},
                      "axis": {"title": null, "ticks": false, "tickSize": 0, "domain": false, "labelFontSize": 5.3, "labelFontWeight": "bold", "labelAlign": "left", "labelPadding": 57}
                    },
                    "color": {
                      "field": "prop", "type": "ordinal",
                      "scale": {"domain": ["3%", "6%", "9%", "12%", "15%", "18%"], "range": ["#5aa3bb", "#a6d99a", "#efeb88", "#f7935a", "#f04c30", "#ee1c1c"]},
                      "legend": {"orient": "none", "legendX": 566, "legendY": 70, "title": "ARG Proportion", "titleFontSize": 5.5, "titleFontWeight": "bold", "labelFontSize": 5.5, "rowPadding": 4.6, "labelOffset": 6, "symbolStrokeWidth": 0, "symbolOpacity": 1}
                    },
                    "size": {
                      "field": "prop", "type": "ordinal",
                      "scale": {"domain": ["3%", "6%", "9%", "12%", "15%", "18%"], "range": [6, 15, 24, 38, 50, 71]},
                      "legend": {"orient": "none", "legendX": 566, "legendY": 70, "title": "ARG Proportion", "titleFontSize": 5.5, "titleFontWeight": "bold", "labelFontSize": 5.5, "rowPadding": 4.6, "labelOffset": 6, "symbolStrokeWidth": 0, "symbolOpacity": 1}
                    }
                  }
                },
                {
                  "data": {"name": "genes"},
                  "mark": {"type": "point", "filled": true, "opacity": 0},
                  "encoding": {
                    "x": {"field": "gene", "type": "nominal"},
                    "y": {"datum": "T4SS-type ICEs"},
                    "color": {
                      "field": "type", "type": "nominal",
                      "scale": {
                        "domain": ["Aminoglycoside", "Beta-lactam", "Chloramphenicol", "MLS", "Multidrug", "Quinolone", "Rifamycin", "Sulfonamide", "Tetracycline", "Trimethoprim"],
                        "range": ["#68d424", "#f1c232", "#e83e9c", "#2e9c70", "#e0102e", "#8a97c9", "#a9ee62", "#f28c1e", "#4431b3", "#f2a193"]
                      },
                      "legend": {"orient": "none", "legendX": 563, "legendY": -10, "title": "ARG Type", "titleFontSize": 5.5, "titleFontWeight": "bold", "labelFontSize": 5.5, "symbolType": "M-1.64,-1H1.64V1H-1.64Z", "symbolSize": 30, "symbolStrokeWidth": 0, "symbolOpacity": 1, "rowPadding": -1.3, "titlePadding": 2, "labelOffset": 2}
                    }
                  }
                }
              ]
            }
          ]
        },
        {
          "spacing": 38,
          "resolve": {"scale": {"color": "independent"}},
          "hconcat": [
            {
              "width": 246,
              "height": 198,
              "title": {"text": "D", "anchor": "start", "frame": "group", "fontSize": 14, "fontWeight": "bold", "dx": -34, "offset": 0},
              "data": {"name": "cover"},
              "mark": {"type": "bar", "stroke": "#4b4b5b", "strokeWidth": 0.8},
              "encoding": {
                "x": {"field": "n", "type": "ordinal", "scale": {"domain": [1, 2, 3, 4, 5, 6, 7, 8, 9, 10, 11, 15], "paddingInner": 0.12, "paddingOuter": 0.06}, "axis": {"title": "ARG Number per ICE", "titleFontSize": 9.5, "labelFontSize": 8.5, "labelAngle": 0, "tickSize": 4, "titlePadding": 5}},
                "xOffset": {"field": "cls", "type": "nominal", "scale": {"domain": ["class-Bacilli", "class-Gammaproteobacteria"]}},
                "y": {"field": "v", "type": "quantitative", "scale": {"domain": [0, 0.7], "nice": false}, "axis": {"title": "ICE Coverage", "titleFontSize": 9.5, "labelFontSize": 8.5, "format": ".0%", "values": [0, 0.1, 0.2, 0.3, 0.4, 0.5, 0.6, 0.7], "tickSize": 4, "titlePadding": 7}},
                "color": {
                  "field": "cls", "type": "nominal",
                  "scale": {"domain": ["class-Bacilli", "class-Gammaproteobacteria"], "range": ["#fdd8aa", "#a9a7f6"]},
                  "legend": {"orient": "none", "legendX": 136, "legendY": 26, "title": "T4SS-type ICEs", "titleFontSize": 8, "titleFontWeight": "bold", "labelFontSize": 9, "symbolType": "M-2.235,-1H2.235V1H-2.235Z", "symbolSize": 72, "symbolStrokeColor": "#4b4b5b", "symbolStrokeWidth": 0.8, "rowPadding": 2, "titlePadding": 3, "labelOffset": 3}
                }
              }
            },
            {
              "width": 253,
              "height": 198,
              "title": {"text": "E", "anchor": "start", "frame": "group", "fontSize": 14, "fontWeight": "bold", "dx": -32, "offset": 0},
              "data": {"name": "argnum"},
              "mark": {"type": "bar", "stroke": "#4b4b5b", "strokeWidth": 0.8},
              "encoding": {
                "x": {"field": "arg", "type": "nominal", "scale": {"domain": ["Tetracycline", "Aminoglycoside", "Multidrug", "Sulfonamide", "Beta-lactam", "Chloramphenicol", "MLS", "Vancomycin", "Trimethoprim", "Bacitracin", "Rifamycin", "Quinolone", "Unclassified", "Bleomycin", "Fosfomycin", "Kasugamycin"], "paddingInner": 0.18, "paddingOuter": 0.09}, "axis": {"title": null, "labelFontSize": 8, "labelAngle": -45, "labelAlign": "right", "tickSize": 4}},
                "y": {"field": "v", "type": "quantitative", "stack": "zero", "scale": {"domain": [0, 312.6], "nice": false}, "axis": {"title": "ARG Number", "titleFontSize": 9.5, "labelFontSize": 8.5, "values": [0, 50, 100, 150, 200, 250, 300], "tickSize": 4, "titlePadding": 6}},
                "order": {"field": "cls", "sort": "descending"},
                "color": {
                  "field": "cls", "type": "nominal",
                  "scale": {"domain": ["class-Bacilli", "class-Gammaproteobacteria"], "range": ["#fdd8aa", "#a9a7f6"]},
                  "legend": {"orient": "none", "legendX": 140, "legendY": 33, "title": "T4SS-type ICEs", "titleFontSize": 8, "titleFontWeight": "bold", "labelFontSize": 9, "symbolType": "M-2.235,-1H2.235V1H-2.235Z", "symbolSize": 72, "symbolStrokeColor": "#4b4b5b", "symbolStrokeWidth": 0.8, "rowPadding": 2, "titlePadding": 3, "labelOffset": 3}
                }
              }
            }
          ]
        }
      ]
    }
  ]
}
